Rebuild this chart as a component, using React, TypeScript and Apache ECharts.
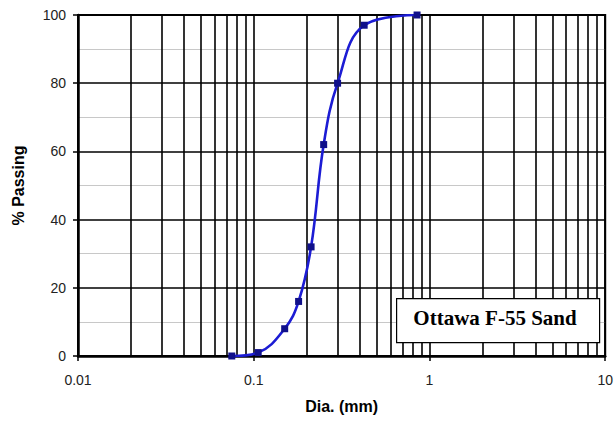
import React, { useEffect, useRef } from "react";
import * as echarts from "echarts";

const diameters = [0.075, 0.106, 0.15, 0.18, 0.212, 0.25, 0.3, 0.425, 0.85];
const passing = [0, 1, 8, 16, 32, 62, 80, 97, 100];
const xGridValues = [
  0.02, 0.03, 0.04, 0.05, 0.06, 0.07, 0.08, 0.09,
  0.2, 0.3, 0.4, 0.5, 0.6, 0.7, 0.8, 0.9,
  2, 3, 4, 5, 6, 7, 8, 9,
];
const xTickLabels: Record<string, string> = { "0.01": "0.01", "0.1": "0.1", "1": "1", "10": "10" };
const boxLabel = "Ottawa F-55 Sand";

export default function App() {
  const ref = useRef<HTMLDivElement>(null);
  useEffect(() => {
    if (!ref.current) return;
    document.body.style.margin = "0";
    const chart = echarts.init(ref.current, undefined, { renderer: "svg" });
    chart.setOption({
      animation: false,
      backgroundColor: "#fff",
      grid: {
        left: 78,
        right: 9,
        top: 15,
        bottom: 66,
        show: true,
        borderColor: "#000",
        borderWidth: 2,
        backgroundColor: "transparent",
      },
      xAxis: {
        type: "log",
        logBase: 10,
        min: 0.01,
        max: 10,
        name: "Dia. (mm)",
        nameLocation: "middle",
        nameGap: 42,
        nameTextStyle: { fontFamily: "Liberation Sans, Arial", fontWeight: "bold", fontSize: 16, color: "#000" },
        axisLine: { show: true, lineStyle: { color: "#000", width: 2.5 } },
        axisTick: { show: true, length: 5, lineStyle: { color: "#000", width: 1.5 } },
        axisLabel: {
          margin: 17,
          fontFamily: "Liberation Sans, Arial",
          fontSize: 14,
          color: "#222",
          formatter: (v: number) => xTickLabels[String(v)] ?? String(v),
        },
        splitLine: { show: true, lineStyle: { color: "#000", width: 1.6 } },
        minorTick: { show: false },
        minorSplitLine: { show: false },
      },
      yAxis: {
        type: "value",
        min: 0,
        max: 100,
        interval: 20,
        name: "% Passing",
        nameLocation: "middle",
        nameGap: 52,
        nameRotate: 90,
        nameTextStyle: { fontFamily: "Liberation Sans, Arial", fontWeight: "bold", fontSize: 16, color: "#000" },
        axisLine: { show: true, lineStyle: { color: "#000", width: 2.5 } },
        axisTick: { show: true, length: 5, lineStyle: { color: "#000", width: 1.5 } },
        axisLabel: { margin: 12, fontFamily: "Liberation Sans, Arial", fontSize: 14, color: "#222" },
        splitLine: { show: true, lineStyle: { color: "#000", width: 1.6 } },
        minorTick: { show: false, splitNumber: 2 },
        minorSplitLine: { show: true, lineStyle: { color: "#c8c8c8", width: 1 } },
      },
      series: [
        {
          type: "line",
          data: diameters.map((d, i) => [d, passing[i]]),
          smooth: 0.4,
          symbol: "rect",
          symbolSize: 7,
          itemStyle: { color: "#10108a" },
          lineStyle: { color: "#1c1cd4", width: 2.6 },
          z: 5,
          markLine: {
            silent: true,
            symbol: "none",
            label: { show: false },
            lineStyle: { color: "#000", width: 1.6, type: "solid" },
            data: xGridValues.map((v) => ({ xAxis: v })),
            z: 1,
          },
        },
      ],
      graphic: [
        {
          type: "rect",
          left: 396,
          top: 298,
          z: 100,
          shape: { width: 203, height: 44 },
          style: { fill: "#fff", stroke: "#000", lineWidth: 1.2 },
        },
        {
          type: "text",
          x: 495,
          y: 318,
          z: 101,
          style: {
            text: boxLabel,
            fontFamily: "Liberation Serif, Times New Roman",
            fontWeight: "bold",
            fontSize: 21,
            fill: "#000",
            align: "center",
            verticalAlign: "middle",
          },
        },
      ],
    });
    return () => chart.dispose();
  }, []);
  return <div ref={ref} style={{ width: 616, height: 422 }} />;
}
